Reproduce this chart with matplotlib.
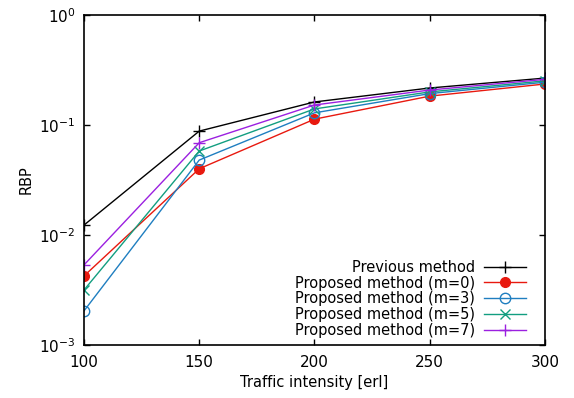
import matplotlib
matplotlib.use("Agg")
import matplotlib.pyplot as plt
from matplotlib.ticker import FixedLocator

plt.rcParams["mathtext.default"] = "regular"

traffic = [100, 150, 200, 250, 300]
previous = [0.0123, 0.088, 0.162, 0.217, 0.267]
m0 = [0.00424, 0.040, 0.113, 0.183, 0.236]
m3 = [0.00204, 0.048, 0.129, 0.193, 0.245]
m5 = [0.00316, 0.058, 0.140, 0.200, 0.252]
m7 = [0.00534, 0.069, 0.152, 0.208, 0.260]

labels = ["Previous method", "Proposed method (m=0)", "Proposed method (m=3)",
          "Proposed method (m=5)", "Proposed method (m=7)"]
yticks = [1e-3, 1e-2, 1e-1, 1]
ytick_labels = [r"$10^{-3}$", r"$10^{-2}$", r"$10^{-1}$", r"$10^{0}$"]

fig = plt.figure(figsize=(5.74, 3.98), dpi=100)
ax = fig.add_axes([0.1463, 0.1332, 0.8032, 0.8291])

ax.plot(traffic, previous, color="black", lw=1, marker="+", ms=8, mew=1, label=labels[0])
ax.plot(traffic, m0, color="#e8190f", lw=1, marker="o", ms=7, mew=1, label=labels[1])
ax.plot(traffic, m3, color="#1f7ec0", lw=1, marker="o", ms=7.5, mfc="none", mew=1, label=labels[2])
ax.plot(traffic, m5, color="#129e80", lw=1, marker="x", ms=6.5, mew=1, label=labels[3])
ax.plot(traffic, m7, color="#9b20e0", lw=1, marker="+", ms=8, mew=1, label=labels[4])

ax.set_yscale("log")
ax.set_ylim(1e-3, 1)
ax.set_xlim(100, 300)
ax.set_xticks(traffic)
ax.yaxis.set_major_locator(FixedLocator(yticks))
ax.yaxis.set_minor_locator(FixedLocator([]))
ax.set_yticklabels(ytick_labels)
ax.tick_params(direction="in", top=True, right=True, length=4, width=1, labelsize=11)
ax.tick_params(axis="x", pad=7)
ax.tick_params(axis="y", pad=6)
for s in ax.spines.values():
    s.set_linewidth(1.2)

ax.set_xlabel("Traffic intensity [erl]", fontsize=10.5)
ax.set_ylabel("RBP", fontsize=10.5, labelpad=4)

leg = ax.legend(loc="lower right", frameon=False, markerfirst=False, alignment="right",
                fontsize=10.5, handlelength=2.9, labelspacing=0.05, handletextpad=0.6,
                borderaxespad=0.3, borderpad=0.2, bbox_to_anchor=(0.975, 0.0))

fig.savefig("out.png", dpi=100)
